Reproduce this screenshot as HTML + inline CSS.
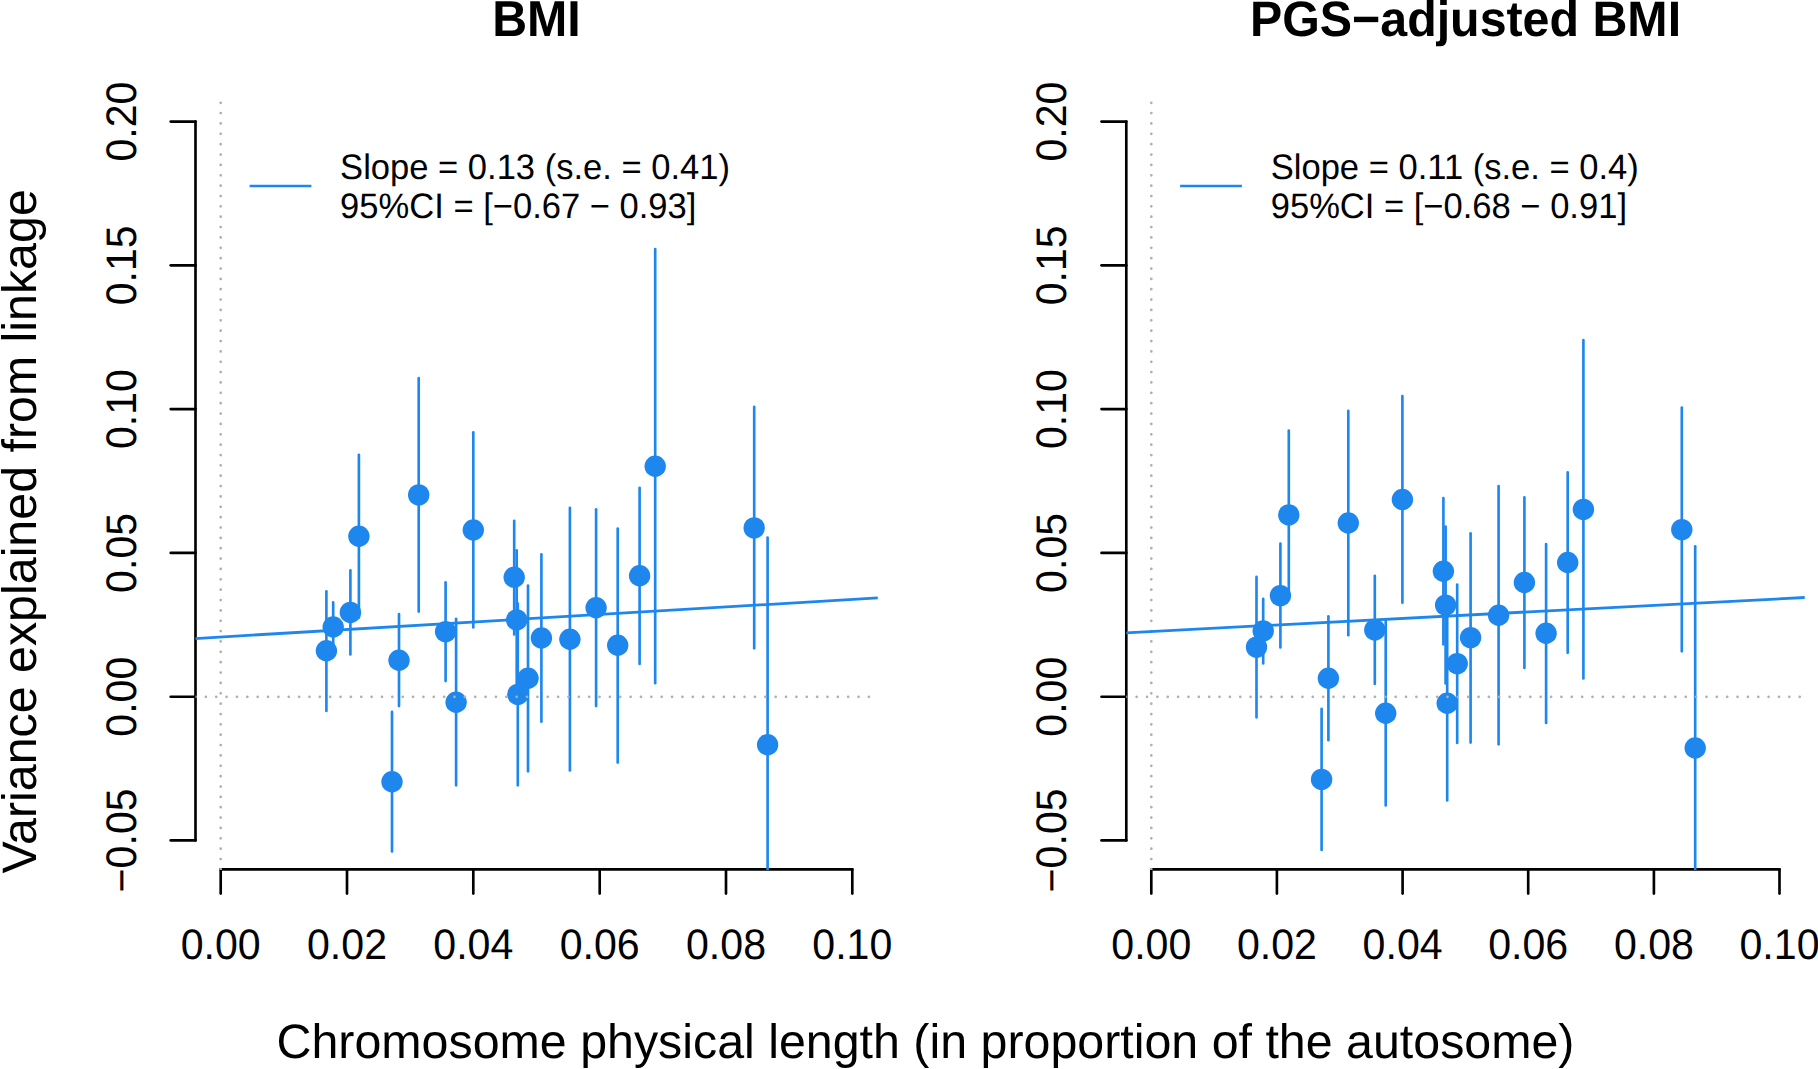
<!DOCTYPE html>
<html lang="en">
<head>
<meta charset="utf-8">
<title>Variance explained from linkage vs chromosome length</title>
<style>
html,body{margin:0;padding:0;background:#fff;}
body{width:1818px;height:1069px;overflow:hidden;}
svg{display:block;}
text{font-family:"Liberation Sans",Arial,Helvetica,sans-serif;fill:#000;text-rendering:geometricPrecision;}
.ax{stroke:#000;stroke-width:2.65;stroke-linecap:round;stroke-linejoin:round;fill:none;}
.ci{stroke:#1E87EE;stroke-width:2.65;stroke-linecap:round;fill:none;}
.pt{fill:#1E87EE;stroke:none;}
.dot{stroke:#B0B0B0;stroke-width:2.75;stroke-linecap:round;stroke-dasharray:0 10.36;fill:none;}
.tick{font-size:41.1px;text-anchor:middle;}
.ttl{font-size:48.35px;font-weight:bold;text-anchor:middle;}
.lab{font-size:48.35px;text-anchor:middle;}
.leg{font-size:34.55px;}
</style>
</head>
<body>
<svg width="1818" height="1069" viewBox="0 0 1818 1069">
<rect x="0" y="0" width="1818" height="1069" fill="#ffffff"/>
<defs>
<clipPath id="clipL"><rect x="195.5" y="92.8" width="682.3" height="777.2"/></clipPath>
<clipPath id="clipR"><rect x="1126.3" y="92.8" width="678.4" height="777.2"/></clipPath>
</defs>
<g id="panelL">
<text class="ttl" transform="translate(536.5 36.1) scale(1 1.045)">BMI</text>
<path class="ax" d="M195.5 121.55V840.4"/>
<path class="ax" d="M195.5 121.55H170.7"/>
<text class="tick" transform="translate(136.1 121.55) rotate(-90) scale(1 1.04)">0.20</text>
<path class="ax" d="M195.5 265.3H170.7"/>
<text class="tick" transform="translate(136.1 265.3) rotate(-90) scale(1 1.04)">0.15</text>
<path class="ax" d="M195.5 409.1H170.7"/>
<text class="tick" transform="translate(136.1 409.1) rotate(-90) scale(1 1.04)">0.10</text>
<path class="ax" d="M195.5 552.9H170.7"/>
<text class="tick" transform="translate(136.1 552.9) rotate(-90) scale(1 1.04)">0.05</text>
<path class="ax" d="M195.5 696.7H170.7"/>
<text class="tick" transform="translate(136.1 696.7) rotate(-90) scale(1 1.04)">0.00</text>
<path class="ax" d="M195.5 840.4H170.7"/>
<text class="tick" transform="translate(136.1 840.4) rotate(-90) scale(1 1.04)">−0.05</text>
<path class="ax" d="M220.7 869.4H852.3"/>
<path class="ax" d="M220.7 869.4V893.6"/>
<text class="tick" transform="translate(220.7 958.5) scale(1 1.04)">0.00</text>
<path class="ax" d="M347.0 869.4V893.6"/>
<text class="tick" transform="translate(347.0 958.5) scale(1 1.04)">0.02</text>
<path class="ax" d="M473.3 869.4V893.6"/>
<text class="tick" transform="translate(473.3 958.5) scale(1 1.04)">0.04</text>
<path class="ax" d="M599.7 869.4V893.6"/>
<text class="tick" transform="translate(599.7 958.5) scale(1 1.04)">0.06</text>
<path class="ax" d="M726.0 869.4V893.6"/>
<text class="tick" transform="translate(726.0 958.5) scale(1 1.04)">0.08</text>
<path class="ax" d="M852.3 869.4V893.6"/>
<text class="tick" transform="translate(852.3 958.5) scale(1 1.04)">0.10</text>
<g clip-path="url(#clipL)">
<path class="ci" d="M326.4 591.2V710.9"/>
<path class="ci" d="M333.2 602.4V651.6"/>
<path class="ci" d="M350.4 570.2V654.5"/>
<path class="ci" d="M358.9 454.8V617.6"/>
<path class="ci" d="M392.0 711.9V851.5"/>
<path class="ci" d="M399.0 614.1V706.1"/>
<path class="ci" d="M418.7 378.0V611.6"/>
<path class="ci" d="M445.6 582.3V681.1"/>
<path class="ci" d="M456.1 618.7V785.3"/>
<path class="ci" d="M473.3 432.2V627.4"/>
<path class="ci" d="M514.2 520.8V634.5"/>
<path class="ci" d="M516.7 550.4V689.4"/>
<path class="ci" d="M517.8 603.5V785.3"/>
<path class="ci" d="M528.0 585.5V771.3"/>
<path class="ci" d="M541.4 554.3V721.7"/>
<path class="ci" d="M569.9 507.7V770.4"/>
<path class="ci" d="M596.1 509.2V706.1"/>
<path class="ci" d="M617.7 528.6V762.6"/>
<path class="ci" d="M639.6 487.7V663.9"/>
<path class="ci" d="M655.2 249.0V683.2"/>
<path class="ci" d="M754.2 406.9V648.3"/>
<path class="ci" d="M767.6 537.6V958.9"/>
<circle class="pt" cx="326.4" cy="650.8" r="10.7"/>
<circle class="pt" cx="333.2" cy="627.0" r="10.7"/>
<circle class="pt" cx="350.4" cy="612.4" r="10.7"/>
<circle class="pt" cx="358.9" cy="536.2" r="10.7"/>
<circle class="pt" cx="392.0" cy="781.7" r="10.7"/>
<circle class="pt" cx="399.0" cy="660.3" r="10.7"/>
<circle class="pt" cx="418.7" cy="494.9" r="10.7"/>
<circle class="pt" cx="445.6" cy="631.6" r="10.7"/>
<circle class="pt" cx="456.1" cy="702.2" r="10.7"/>
<circle class="pt" cx="473.3" cy="530.0" r="10.7"/>
<circle class="pt" cx="514.2" cy="577.2" r="10.7"/>
<circle class="pt" cx="516.7" cy="619.9" r="10.7"/>
<circle class="pt" cx="517.8" cy="694.4" r="10.7"/>
<circle class="pt" cx="528.0" cy="678.3" r="10.7"/>
<circle class="pt" cx="541.4" cy="638.0" r="10.7"/>
<circle class="pt" cx="569.9" cy="639.2" r="10.7"/>
<circle class="pt" cx="596.1" cy="607.7" r="10.7"/>
<circle class="pt" cx="617.7" cy="645.2" r="10.7"/>
<circle class="pt" cx="639.6" cy="575.8" r="10.7"/>
<circle class="pt" cx="655.2" cy="466.3" r="10.7"/>
<circle class="pt" cx="754.2" cy="527.9" r="10.7"/>
<circle class="pt" cx="767.6" cy="744.7" r="10.7"/>
<path class="dot" d="M195.5 696.8H882.8"/>
<path class="dot" d="M220.7 869.4V98"/>
<path d="M190.5 638.80L882.8 597.60" stroke="#1E87EE" stroke-width="2.8" fill="none"/>
</g>
<path class="ci" style="stroke-linecap:butt" d="M249.6 186.0H311.4"/>
<text class="leg" transform="translate(340.1 179.0) scale(1 1.025)">Slope = 0.13 (s.e. = 0.41)</text>
<text class="leg" transform="translate(340.1 218.0) scale(1 1.025)">95%CI = [−0.67 − 0.93]</text>
</g>
<g id="panelR">
<text class="ttl" transform="translate(1465.5 36.1) scale(1 1.03)">PGS−adjusted BMI</text>
<path class="ax" d="M1126.3 121.55V840.4"/>
<path class="ax" d="M1126.3 121.55H1101.5"/>
<text class="tick" transform="translate(1065.9 121.55) rotate(-90) scale(1 1.04)">0.20</text>
<path class="ax" d="M1126.3 265.3H1101.5"/>
<text class="tick" transform="translate(1065.9 265.3) rotate(-90) scale(1 1.04)">0.15</text>
<path class="ax" d="M1126.3 409.1H1101.5"/>
<text class="tick" transform="translate(1065.9 409.1) rotate(-90) scale(1 1.04)">0.10</text>
<path class="ax" d="M1126.3 552.9H1101.5"/>
<text class="tick" transform="translate(1065.9 552.9) rotate(-90) scale(1 1.04)">0.05</text>
<path class="ax" d="M1126.3 696.7H1101.5"/>
<text class="tick" transform="translate(1065.9 696.7) rotate(-90) scale(1 1.04)">0.00</text>
<path class="ax" d="M1126.3 840.4H1101.5"/>
<text class="tick" transform="translate(1065.9 840.4) rotate(-90) scale(1 1.04)">−0.05</text>
<path class="ax" d="M1151.3 869.4H1779.5"/>
<path class="ax" d="M1151.3 869.4V893.6"/>
<text class="tick" transform="translate(1151.3 958.5) scale(1 1.04)">0.00</text>
<path class="ax" d="M1276.9 869.4V893.6"/>
<text class="tick" transform="translate(1276.9 958.5) scale(1 1.04)">0.02</text>
<path class="ax" d="M1402.6 869.4V893.6"/>
<text class="tick" transform="translate(1402.6 958.5) scale(1 1.04)">0.04</text>
<path class="ax" d="M1528.2 869.4V893.6"/>
<text class="tick" transform="translate(1528.2 958.5) scale(1 1.04)">0.06</text>
<path class="ax" d="M1653.9 869.4V893.6"/>
<text class="tick" transform="translate(1653.9 958.5) scale(1 1.04)">0.08</text>
<path class="ax" d="M1779.5 869.4V893.6"/>
<text class="tick" transform="translate(1779.5 958.5) scale(1 1.04)">0.10</text>
<g clip-path="url(#clipR)">
<path class="ci" d="M1256.5 576.9V717.3"/>
<path class="ci" d="M1263.2 598.7V663.4"/>
<path class="ci" d="M1280.4 543.6V647.4"/>
<path class="ci" d="M1288.8 430.5V599.3"/>
<path class="ci" d="M1321.6 708.8V849.9"/>
<path class="ci" d="M1328.4 616.3V740.2"/>
<path class="ci" d="M1348.3 410.7V635.2"/>
<path class="ci" d="M1374.8 575.8V684.0"/>
<path class="ci" d="M1385.7 621.0V805.4"/>
<path class="ci" d="M1402.4 396.1V602.7"/>
<path class="ci" d="M1443.4 498.0V644.3"/>
<path class="ci" d="M1445.6 526.5V683.4"/>
<path class="ci" d="M1447.2 606.0V800.4"/>
<path class="ci" d="M1457.2 584.5V742.9"/>
<path class="ci" d="M1470.6 533.3V742.6"/>
<path class="ci" d="M1498.6 486.0V744.3"/>
<path class="ci" d="M1524.4 497.2V668.0"/>
<path class="ci" d="M1546.1 544.0V722.9"/>
<path class="ci" d="M1567.7 472.4V652.8"/>
<path class="ci" d="M1583.4 340.1V678.5"/>
<path class="ci" d="M1681.8 407.6V651.3"/>
<path class="ci" d="M1695.2 546.2V958.9"/>
<circle class="pt" cx="1256.5" cy="647.1" r="10.7"/>
<circle class="pt" cx="1263.2" cy="630.9" r="10.7"/>
<circle class="pt" cx="1280.4" cy="595.6" r="10.7"/>
<circle class="pt" cx="1288.8" cy="514.9" r="10.7"/>
<circle class="pt" cx="1321.6" cy="779.4" r="10.7"/>
<circle class="pt" cx="1328.4" cy="678.3" r="10.7"/>
<circle class="pt" cx="1348.3" cy="523.0" r="10.7"/>
<circle class="pt" cx="1374.8" cy="629.9" r="10.7"/>
<circle class="pt" cx="1385.7" cy="713.2" r="10.7"/>
<circle class="pt" cx="1402.4" cy="499.5" r="10.7"/>
<circle class="pt" cx="1443.4" cy="571.2" r="10.7"/>
<circle class="pt" cx="1445.6" cy="605.1" r="10.7"/>
<circle class="pt" cx="1447.2" cy="703.2" r="10.7"/>
<circle class="pt" cx="1457.2" cy="663.6" r="10.7"/>
<circle class="pt" cx="1470.6" cy="637.6" r="10.7"/>
<circle class="pt" cx="1498.6" cy="615.2" r="10.7"/>
<circle class="pt" cx="1524.4" cy="582.5" r="10.7"/>
<circle class="pt" cx="1546.1" cy="633.3" r="10.7"/>
<circle class="pt" cx="1567.7" cy="562.5" r="10.7"/>
<circle class="pt" cx="1583.4" cy="509.4" r="10.7"/>
<circle class="pt" cx="1681.8" cy="529.6" r="10.7"/>
<circle class="pt" cx="1695.2" cy="748.0" r="10.7"/>
<path class="dot" d="M1126.3 696.8H1809.7"/>
<path class="dot" d="M1151.3 869.4V98"/>
<path d="M1121.3 633.06L1809.7 597.24" stroke="#1E87EE" stroke-width="2.8" fill="none"/>
</g>
<path class="ci" style="stroke-linecap:butt" d="M1180.1 186.0H1241.9"/>
<text class="leg" transform="translate(1270.7 179.0) scale(1 1.025)">Slope = 0.11 (s.e. = 0.4)</text>
<text class="leg" transform="translate(1270.7 218.0) scale(1 1.025)">95%CI = [−0.68 − 0.91]</text>
</g>
<text class="lab" x="925.5" y="1057.8">Chromosome physical length (in proportion of the autosome)</text>
<text class="lab" transform="translate(35.8 531.4) rotate(-90)">Variance explained from linkage</text>
</svg>
</body>
</html>
